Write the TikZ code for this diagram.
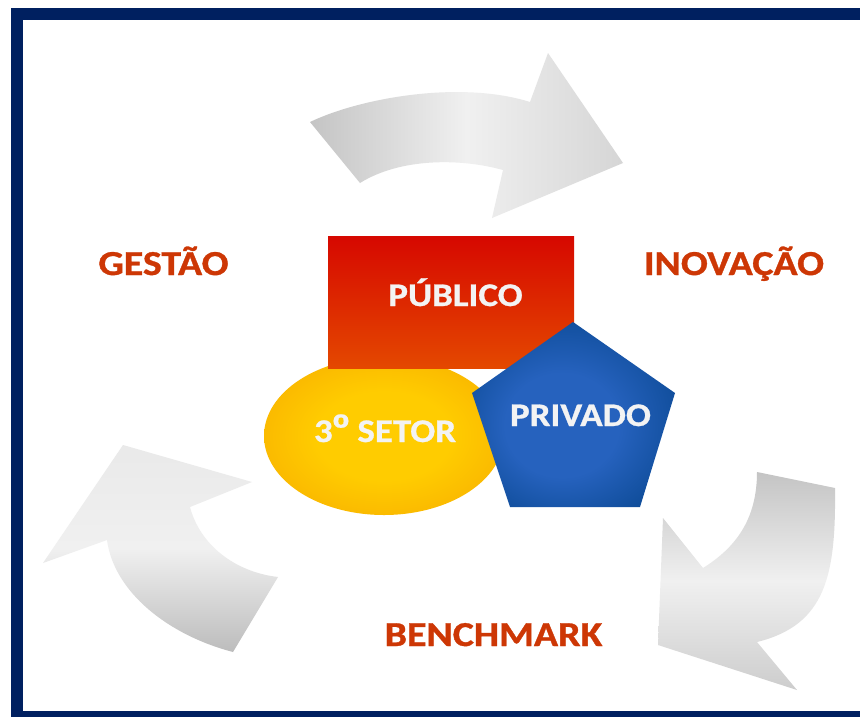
\documentclass[tikz,border=0pt]{standalone}
\usepackage{fontspec}
\setmainfont{Carlito}
\newfontfamily\headfont[FakeBold=0.9]{Carlito Bold}
\newfontfamily\centfont[FakeBold=0.8]{Carlito Bold}
\newfontfamily\ordfont[FakeBold=0.5]{Liberation Sans Bold}
\definecolor{navy}{RGB}{0,32,96}
\definecolor{headred}{RGB}{205,55,5}
\definecolor{txtwhite}{RGB}{243,243,243}
\definecolor{arrdark}{RGB}{196,196,196}
\definecolor{arrlight}{RGB}{240,240,240}
\definecolor{recttop}{RGB}{214,8,0}
\definecolor{rectbot}{RGB}{228,72,0}
\definecolor{ellyel}{RGB}{255,204,0}
\definecolor{ellorg}{RGB}{246,166,0}
\definecolor{penmid}{RGB}{38,98,190}
\definecolor{penedge}{RGB}{8,70,142}
\pgfdeclareradialshading{ellshade}{\pgfpoint{0bp}{0bp}}{color(0bp)=(ellyel); color(14bp)=(ellyel); color(38bp)=(ellorg); color(50bp)=(ellorg)}
\pgfdeclareradialshading{penshade}{\pgfpoint{-4bp}{-4bp}}{color(0bp)=(penmid); color(14bp)=(penmid); color(34bp)=(penedge); color(50bp)=(penedge)}
\tikzset{
  heading/.style={anchor=base, inner sep=0pt, text=headred, font=\fontsize{35}{37}\headfont},
  inlabel/.style={anchor=base, inner sep=0pt, text=txtwhite, font=\fontsize{33}{35}\centfont},
}
\newcommand{\hstretch}[1]{\scalebox{1.14}[1]{#1}}
\newcommand{\cstretch}[1]{\scalebox{1.12}[1]{#1}}
\begin{document}
\begin{tikzpicture}[x=1pt,y=-1pt]
\useasboundingbox (0,0) rectangle (860,716);
\fill[white] (0,0) rectangle (860,716);
% frame
\draw[navy, line width=12pt] (17,14) rectangle (870,717);
% top arrow
\path[left color=arrdark, right color=arrdark!60!arrlight, middle color=arrlight]
  (310,122) .. controls (360,98) and (460,80) .. (530,102)
  -- (548,53) -- (623,163) -- (492,218) -- (503,170)
  .. controls (460,158) and (400,158) .. (360,183) -- cycle;
% right arrow
\path[top color=arrdark, bottom color=arrdark!80!arrlight, middle color=arrlight]
  (757,472) -- (835,488)
  .. controls (836,575) and (826,625) .. (757,642)
  -- (797,690) -- (658,645) -- (663,518) -- (703,568)
  .. controls (735,548) and (757,520) .. (757,472) -- cycle;
% left arrow
\path[top color=arrlight!85!arrdark, bottom color=arrdark!96!black, middle color=arrlight]
  (123,445) -- (252,482) -- (190,507)
  .. controls (200,545) and (235,572) .. (278,577)
  -- (233,652)
  .. controls (168,635) and (114,592) .. (107,540)
  -- (43,563) -- cycle;
% ellipse
\path[shading=ellshade] (384,436) ellipse [x radius=120, y radius=79];
% rectangle
\path[top color=recttop, bottom color=rectbot] (328,236) rectangle (574,368);
% pentagon
\path[shading=penshade] (573,322) -- (675,393) -- (640,507) -- (510,507) -- (472,393) -- cycle;
% labels
\node[heading] (gestao) at (163.5,275) {\hstretch{GESTÃO}};
\node[heading] (inovacao) at (734,275) {\hstretch{INOVAÇÃO}};
\node[heading] (bench) at (493.5,646) {\hstretch{BENCHMARK}};
\node[inlabel] (publico) at (455.5,306) {\cstretch{PÚBLICO}};
\node[inlabel] (setor) at (385,442) {\cstretch{3{\ordfont\fontsize{40}{40}\selectfont º} SETOR}};
\node[inlabel] (privado) at (580.5,426) {\cstretch{PRIVADO}};
\end{tikzpicture}
\end{document}
